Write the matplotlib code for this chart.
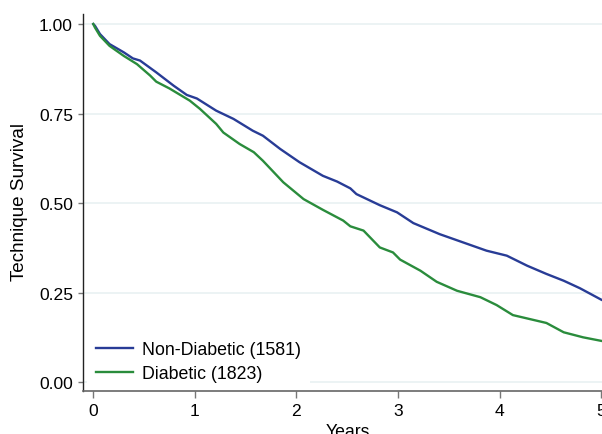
import matplotlib
matplotlib.use("Agg")
import matplotlib.pyplot as plt

# Years and survival values
nd_years = [0.0, 0.017, 0.066, 0.16, 0.30, 0.39, 0.46, 0.62, 0.79, 0.92, 1.02, 1.21, 1.38,
            1.57, 1.67, 1.84, 2.03, 2.26, 2.40, 2.53, 2.59, 2.82, 2.99, 3.15, 3.41, 3.64,
            3.87, 4.07, 4.27, 4.46, 4.63, 4.79, 5.0]
nd_surv = [1.0, 0.995, 0.972, 0.944, 0.921, 0.904, 0.898, 0.865, 0.828, 0.802, 0.792, 0.758,
           0.735, 0.702, 0.688, 0.651, 0.614, 0.576, 0.560, 0.541, 0.525, 0.494, 0.474,
           0.444, 0.413, 0.390, 0.367, 0.353, 0.325, 0.302, 0.283, 0.262, 0.230]

d_years = [0.0, 0.017, 0.066, 0.16, 0.30, 0.43, 0.56, 0.62, 0.75, 0.95, 1.05, 1.21, 1.28,
           1.44, 1.58, 1.67, 1.87, 2.07, 2.26, 2.46, 2.53, 2.66, 2.82, 2.95, 3.02, 3.22,
           3.38, 3.58, 3.81, 3.97, 4.13, 4.46, 4.63, 4.82, 5.0]
d_surv = [1.0, 0.99, 0.967, 0.939, 0.911, 0.888, 0.856, 0.839, 0.820, 0.786, 0.763, 0.721,
          0.697, 0.665, 0.642, 0.618, 0.558, 0.511, 0.481, 0.451, 0.435, 0.423, 0.376,
          0.362, 0.342, 0.311, 0.280, 0.255, 0.237, 0.215, 0.187, 0.165, 0.139, 0.125, 0.115]

labels = ["Non-Diabetic (1581)", "Diabetic (1823)"]
yticks = [0.0, 0.25, 0.5, 0.75, 1.0]
ytick_labels = ["0.00", "0.25", "0.50", "0.75", "1.00"]
xticks = [0, 1, 2, 3, 4, 5]

plt.rcParams['font.family'] = ['Liberation Sans', 'DejaVu Sans']

W, H = 602, 435
fig = plt.figure(figsize=(W / 100, H / 100), dpi=100)
left, right, bottom, top = 83, 602, 392, 15
ax = fig.add_axes([left / W, (H - bottom) / H, (right - left) / W, (bottom - top) / H])

for y in yticks:
    ax.axhline(y, color='#eaf2f3', lw=1.3, zorder=0)

ax.plot(nd_years, nd_surv, color='#283c96', lw=1.7, label=labels[0], zorder=3)
ax.plot(d_years, d_surv, color='#2a8c3c', lw=1.7, label=labels[1], zorder=3)

ax.set_xlim(-0.101, 5.007)
ax.set_ylim(-0.025, 1.028)
ax.set_yticks(yticks)
ax.set_yticklabels(ytick_labels)
ax.set_xticks(xticks)

for s in ['top', 'right']:
    ax.spines[s].set_visible(False)
ax.spines['left'].set_color('#222222')
ax.spines['bottom'].set_color('#666666')
ax.spines['left'].set_linewidth(1.0)
ax.spines['bottom'].set_linewidth(1.2)
ax.tick_params(axis='y', direction='out', length=3.6, width=1.0, color='#777777',
               labelsize=12.6, pad=3.6, labelcolor='black')
ax.tick_params(axis='x', direction='out', length=5, width=1.0, color='#777777',
               labelsize=12.6, pad=4, labelcolor='black')

ax.set_ylabel("Technique Survival", fontsize=13.6)
ax.yaxis.set_label_coords(-0.106, 0.503)
ax.set_xlabel("Years", fontsize=12.7)
ax.xaxis.set_label_coords(0.511, -0.084)

leg = ax.legend(loc='lower left', bbox_to_anchor=(0.008, 0.0), frameon=True,
                facecolor='white', edgecolor='none', framealpha=1, fontsize=12.8,
                handlelength=2.1, handletextpad=0.5, labelspacing=0.4,
                borderpad=0.5, borderaxespad=0.0, fancybox=False)
leg.set_zorder(2)

fig.savefig("out.png", dpi=100)
